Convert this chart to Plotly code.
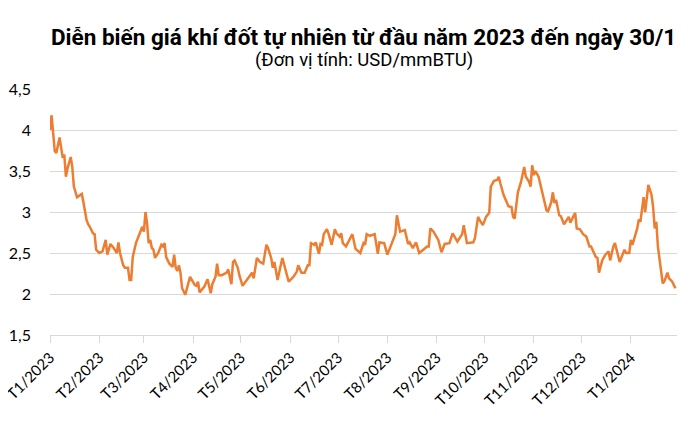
import pandas as pd
import plotly.graph_objects as go

title_text = "Diễn biến giá khí đốt tự nhiên từ đầu năm 2023 đến ngày 30/1"
subtitle_text = "(Đơn vị tính: USD/mmBTU)"

# days elapsed since 2023-01-01 for each observation
days_since_2023_01_01 = [
    0, 1, 3, 4, 6, 8, 9, 10, 11, 13, 14, 15, 17, 20, 21, 23, 24, 25, 27, 28,
    29, 31, 33, 35, 36, 38, 40, 42, 43, 44, 46, 47, 49, 50, 51, 52, 54, 56, 58, 59,
    60, 61, 62, 63, 64, 65, 66, 68, 70, 71, 72, 73, 75, 77, 78, 79, 80, 81, 82, 83,
    85, 88, 89, 91, 92, 93, 94, 97, 99, 101, 102, 104, 105, 106, 108, 111, 112, 114, 115, 116,
    118, 119, 121, 124, 127, 128, 130, 132, 134, 136, 137, 139, 140, 141, 143, 146, 148, 150, 153, 155,
    156, 158, 160, 162, 163, 164, 166, 167, 169, 170, 171, 172, 174, 175, 177, 179, 180, 182, 183, 184,
    186, 190, 192, 195, 197, 198, 199, 201, 204, 206, 207, 210, 212, 214, 217, 218, 220, 223, 225, 226,
    228, 230, 232, 237, 238, 239, 241, 244, 246, 248, 251, 253, 254, 256, 259, 260, 262, 266, 267, 269,
    270, 272, 274, 276, 277, 279, 281, 282, 283, 285, 287, 288, 290, 291, 292, 294, 296, 298, 299, 301,
    302, 303, 304, 305, 307, 308, 310, 312, 313, 315, 316, 317, 318, 320, 321, 323, 326, 327, 330, 331,
    333, 335, 337, 339, 340, 343, 344, 345, 347, 349, 351, 352, 354, 355, 358, 360, 361, 362, 364, 365,
    366, 369, 370, 371, 373, 374, 375, 376, 378, 379, 380, 381, 382, 385, 386, 388, 389, 391, 393,
]

price_usd_mmbtu = [
    4.00, 4.18, 3.74, 3.72, 3.91, 3.66, 3.70, 3.43, 3.53, 3.67, 3.55, 3.31, 3.18, 3.22, 3.12, 2.90, 2.85, 2.82, 2.74, 2.73,
    2.54, 2.50, 2.52, 2.66, 2.48, 2.61, 2.56, 2.50, 2.63, 2.50, 2.35, 2.32, 2.32, 2.17, 2.17, 2.45, 2.62, 2.73, 2.82, 2.76,
    3.00, 2.86, 2.62, 2.66, 2.56, 2.54, 2.44, 2.50, 2.60, 2.58, 2.62, 2.45, 2.37, 2.33, 2.48, 2.32, 2.28, 2.35, 2.26, 2.07,
    1.99, 2.21, 2.17, 2.11, 2.10, 2.15, 2.02, 2.09, 2.18, 2.01, 2.12, 2.21, 2.37, 2.23, 2.23, 2.26, 2.30, 2.12, 2.39, 2.41,
    2.32, 2.23, 2.10, 2.18, 2.26, 2.19, 2.44, 2.39, 2.37, 2.60, 2.56, 2.44, 2.32, 2.39, 2.17, 2.44, 2.29, 2.15, 2.21, 2.27,
    2.35, 2.26, 2.26, 2.35, 2.35, 2.62, 2.60, 2.63, 2.49, 2.61, 2.60, 2.73, 2.79, 2.74, 2.60, 2.79, 2.74, 2.70, 2.74, 2.62,
    2.58, 2.73, 2.55, 2.50, 2.62, 2.60, 2.73, 2.71, 2.73, 2.49, 2.63, 2.62, 2.48, 2.58, 2.73, 2.96, 2.76, 2.78, 2.61, 2.63,
    2.56, 2.63, 2.50, 2.58, 2.58, 2.80, 2.76, 2.66, 2.51, 2.61, 2.62, 2.74, 2.70, 2.64, 2.73, 2.84, 2.62, 2.63, 2.68, 2.94,
    2.90, 2.84, 2.94, 2.99, 3.31, 3.38, 3.39, 3.43, 3.35, 3.21, 3.12, 3.07, 3.06, 2.94, 2.92, 3.24, 3.37, 3.55, 3.43, 3.37,
    3.31, 3.57, 3.45, 3.50, 3.43, 3.35, 3.17, 3.02, 3.01, 3.12, 3.24, 3.11, 3.15, 2.96, 2.95, 2.85, 2.94, 2.87, 2.99, 2.80,
    2.79, 2.73, 2.70, 2.58, 2.58, 2.45, 2.44, 2.26, 2.41, 2.48, 2.52, 2.41, 2.58, 2.62, 2.39, 2.48, 2.54, 2.50, 2.50, 2.66,
    2.60, 2.80, 2.91, 2.88, 3.18, 3.00, 3.17, 3.33, 3.21, 3.06, 2.80, 2.88, 2.58, 2.13, 2.15, 2.26, 2.19, 2.15, 2.07,
]

tick_dates = [
    "2023-01-01", "2023-02-01", "2023-03-01", "2023-04-01", "2023-05-01", "2023-06-01", "2023-07-01",
    "2023-08-01", "2023-09-01", "2023-10-01", "2023-11-01", "2023-12-01", "2024-01-01",
]
tick_labels = [
    "T1/2023", "T2/2023", "T3/2023", "T4/2023", "T5/2023", "T6/2023", "T7/2023",
    "T8/2023", "T9/2023", "T10/2023", "T11/2023", "T12/2023", "T1/2024",
]
y_tick_vals = [1.5, 2, 2.5, 3, 3.5, 4, 4.5]
y_tick_text = ["1,5", "2", "2,5", "3", "3,5", "4", "4,5"]

dates = pd.Timestamp("2023-01-01") + pd.to_timedelta(days_since_2023_01_01, unit="D")

fig = go.Figure()
fig.add_trace(go.Scatter(
    x=dates, y=price_usd_mmbtu, mode="lines",
    line=dict(color="#ED7D31", width=2.5),
    showlegend=False,
))

# the page body adds an 8px offset; the figure is sized to fit the window
W, H = 689, 422
grid = "#d9d9d9"
M_L, M_R, M_T, M_B = 42, 20, 81, 95
plot_h = H - M_T - M_B
fig.update_layout(
    width=W, height=H,
    margin=dict(l=M_L, r=M_R, t=M_T, b=M_B, autoexpand=False),
    paper_bgcolor="white", plot_bgcolor="white",
    font=dict(family="Lato", color="#000000"),
    annotations=[
        dict(text="<b>" + title_text + "</b>", x=0.5, xref="paper",
             y=1 + (M_T - 29) / plot_h, yref="paper", yanchor="middle",
             showarrow=False, font=dict(family="Roboto", size=22.5, color="#000")),
        dict(text=subtitle_text, x=0.5, xref="paper",
             y=1 + (M_T - 52) / plot_h, yref="paper", yanchor="middle",
             showarrow=False, font=dict(family="Roboto", size=18.5, color="#000")),
    ],
)

fig.update_xaxes(
    type="date",
    range=["2023-01-01", "2024-01-30"],
    tickvals=tick_dates, ticktext=tick_labels, tickangle=-45,
    tickfont=dict(family="Lato", size=15, color="#000"),
    ticklabeloverflow="allow",
    showgrid=False, automargin=False,
    showline=True, linecolor=grid, linewidth=1,
    ticks="outside", ticklen=7, tickcolor=grid,
    zeroline=False,
)
fig.update_yaxes(
    range=[1.5, 4.5], automargin=False,
    tickvals=y_tick_vals, ticktext=y_tick_text,
    tickfont=dict(family="Lato", size=16, color="#000"),
    showgrid=True, gridcolor=grid, gridwidth=1,
    zeroline=False, showline=False, ticks="", ticklabelstandoff=18,
)

fig.write_html("out.html")
